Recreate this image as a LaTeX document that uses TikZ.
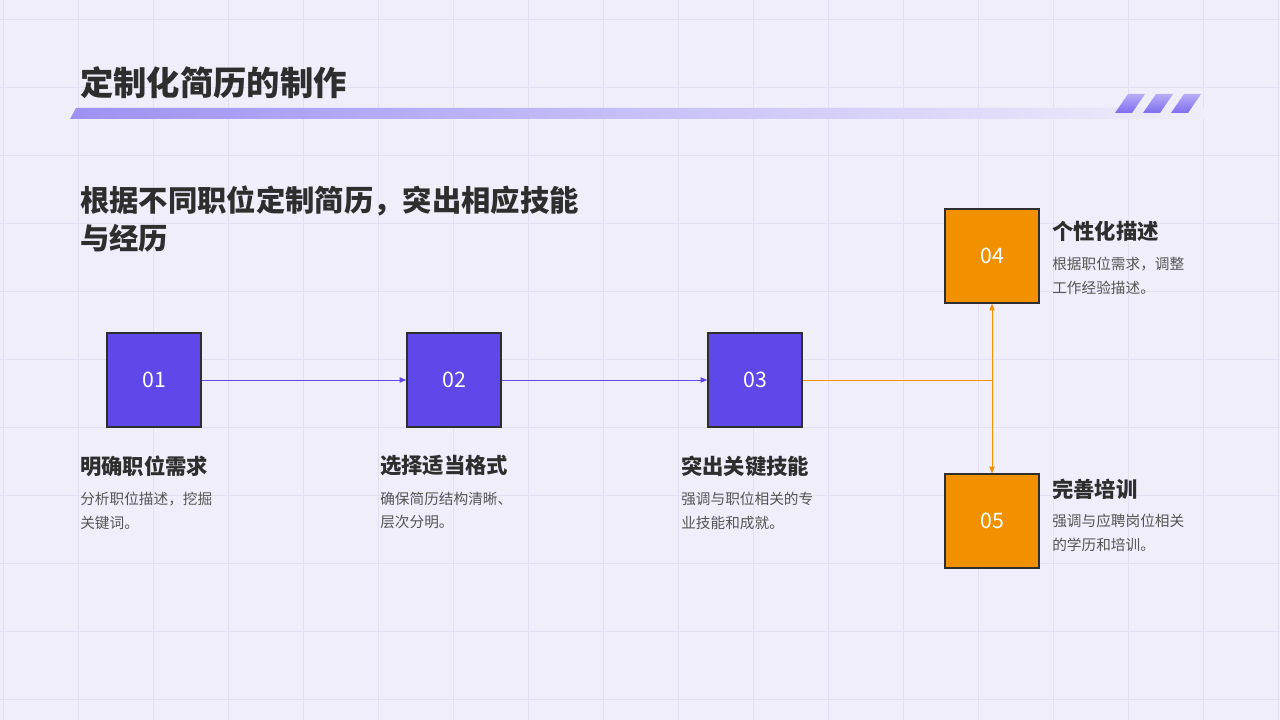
\documentclass[tikz,border=0pt]{standalone}
\usepackage{fontspec}
\setmainfont{Noto Sans CJK SC}
\usetikzlibrary{arrows.meta, positioning}
\definecolor{bgc}{HTML}{F0EEFB}
\definecolor{gridc}{HTML}{E2DFF2}
\definecolor{purp}{HTML}{5E48EA}
\definecolor{orng}{HTML}{F29100}
\definecolor{txt}{HTML}{2E2E2E}
\definecolor{dsc}{HTML}{555555}
\tikzset{
  stepbox/.style={draw=txt, line width=1.6pt, minimum size=70pt, inner sep=0pt, text=white, font=\fontsize{16}{16}\selectfont},
  steptitle/.style={anchor=west, text=txt, font=\fontsize{16}{18}\selectfont\bfseries, inner sep=0pt},
  stepdesc/.style={anchor=north west, text=dsc, align=left, font=\fontsize{11}{17.5}\selectfont, inner sep=0pt},
  link/.style={line width=0.6pt, -{Triangle[length=5pt,width=4pt]}}
}
\begin{document}
\begin{tikzpicture}[x=0.75pt, y=-0.75pt]
\fill[bgc] (0,0) rectangle (1280,720);
\useasboundingbox (0,0) rectangle (1280,720);
% grid
\foreach \gx in {3,78,...,1280} \draw[gridc, line width=0.5pt] (\gx,0) -- (\gx,720);
\foreach \gy in {19,87,...,720} \draw[gridc, line width=0.5pt] (0,\gy) -- (1280,\gy);
% header
\node[anchor=west, text=txt, inner sep=0pt, font=\fontsize{25}{25}\selectfont\bfseries] (title) at (80,83) {定制化简历的制作};
\shade[left color=purp!60, right color=bgc] (76,108) -- (1210,108) -- (1204,119) -- (70,119) -- cycle;
\foreach \sx in {1128,1156,1184}
  \shade[top color=purp!45, bottom color=purp!80] (\sx,94) -- (\sx+17,94) -- (\sx+4,113) -- (\sx-13,113) -- cycle;
\node[anchor=north west, text=txt, inner sep=0pt, align=left, font=\fontsize{22}{28.5}\selectfont\bfseries] (lead) at (80,186) {根据不同职位定制简历，突出相应技能\\与经历};
% steps
\node[stepbox, fill=purp] (s1) at (154,380) {01};
\node[stepbox, fill=purp] (s2) at (454,380) {02};
\node[stepbox, fill=purp] (s3) at (755,380) {03};
\node[stepbox, fill=orng] (s4) at (992,256) {04};
\node[stepbox, fill=orng] (s5) at (992,521) {05};
\coordinate (fork) at (992,380);
\draw[link, purp] (s1) -- (s2);
\draw[link, purp] (s2) -- (s3);
\draw[line width=0.6pt, orng] (s3) -- (fork);
\draw[link, orng] (fork) -- (s4);
\draw[link, orng] (fork) -- (s5);
% labels
\node[steptitle] (t1) at (80,466) {明确职位需求};
\node[stepdesc] (d1) at (80,492) {分析职位描述，挖掘\\关键词。};
\node[steptitle] (t2) at (380,466) {选择适当格式};
\node[stepdesc] (d2) at (380,492) {确保简历结构清晰、\\层次分明。};
\node[steptitle] (t3) at (681,466) {突出关键技能};
\node[stepdesc] (d3) at (681,492) {强调与职位相关的专\\业技能和成就。};
\node[steptitle] (t4) at (1052,231) {个性化描述};
\node[stepdesc] (d4) at (1052,257) {根据职位需求，调整\\工作经验描述。};
\node[steptitle] (t5) at (1052,489) {完善培训};
\node[stepdesc] (d5) at (1052,514) {强调与应聘岗位相关\\的学历和培训。};
\end{tikzpicture}
\end{document}
